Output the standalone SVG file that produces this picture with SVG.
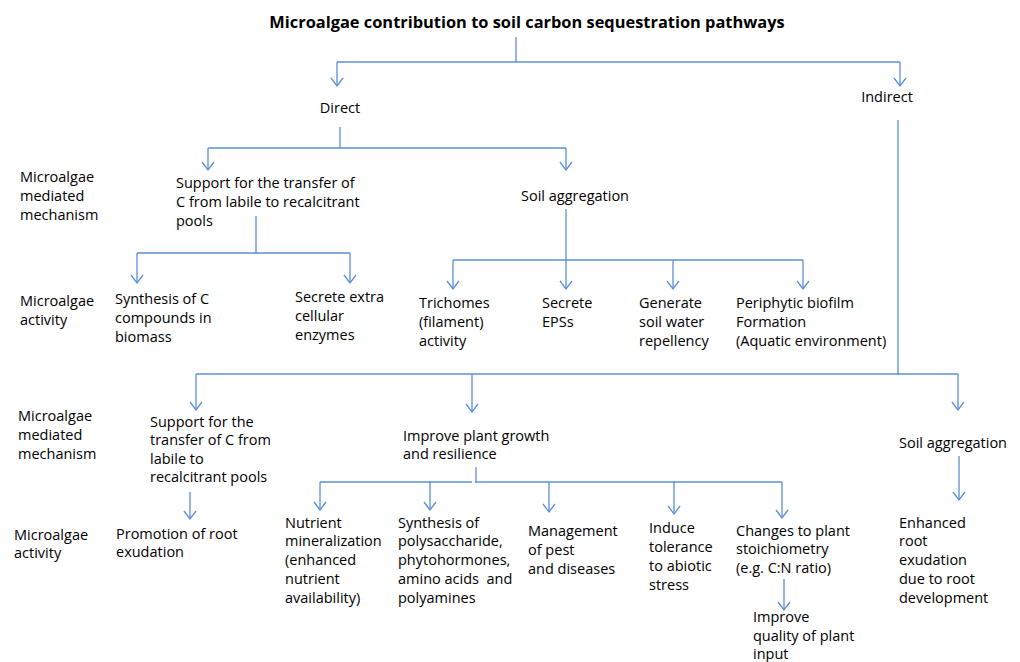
<svg xmlns="http://www.w3.org/2000/svg" width="1020" height="662" viewBox="0 0 1020 662">
<defs>
<style>
text{font-family:"Open Sans","Liberation Sans",sans-serif;font-size:14.5px;fill:#000}
.title{font-weight:bold;font-size:16.4px}
.c line,.c polyline{stroke:#5b8fd6;stroke-width:1.3;fill:none}
.c .a{marker-end:url(#ah)}
</style>
<marker id="ah" markerWidth="14" markerHeight="14" refX="10" refY="7" markerUnits="userSpaceOnUse" orient="auto" viewBox="0 0 14 14">
<polyline points="2,1 10,7 2,13" fill="none" stroke="#5b8fd6" stroke-width="1.3"/>
</marker>
</defs>
<rect width="1020" height="662" fill="#fff"/>
<g id="connectors" class="c">
<line x1="516" y1="37" x2="516" y2="62"/>
<polyline points="337,62 900,62"/>
<line class="a" x1="337" y1="62" x2="337" y2="86"/>
<line class="a" x1="900" y1="62" x2="900" y2="86"/>
<line x1="340" y1="127" x2="340" y2="148"/>
<polyline points="208,148 566,148"/>
<line class="a" x1="208" y1="148" x2="208" y2="170"/>
<line class="a" x1="566" y1="148" x2="566" y2="170"/>
<line x1="898" y1="120" x2="898" y2="374"/>
<line x1="256" y1="216" x2="256" y2="253"/>
<polyline points="137,253 350,253"/>
<line class="a" x1="137" y1="253" x2="137" y2="283"/>
<line class="a" x1="350" y1="253" x2="350" y2="283"/>
<line class="a" x1="566" y1="209" x2="566" y2="289"/>
<polyline points="453,260 803,260"/>
<line class="a" x1="453" y1="260" x2="453" y2="289"/>
<line class="a" x1="673" y1="260" x2="673" y2="289"/>
<line class="a" x1="803" y1="260" x2="803" y2="289"/>
<polyline points="196,374 958,374"/>
<line class="a" x1="196" y1="374" x2="196" y2="410"/>
<line class="a" x1="472" y1="374" x2="472" y2="412"/>
<line class="a" x1="958" y1="374" x2="958" y2="410"/>
<line x1="476" y1="467" x2="476" y2="482"/>
<polyline points="320,482 472,482"/>
<polyline points="475,482 782,482"/>
<line class="a" x1="320" y1="482" x2="320" y2="510"/>
<line class="a" x1="430" y1="482" x2="430" y2="510"/>
<line class="a" x1="549" y1="482" x2="549" y2="512"/>
<line class="a" x1="674" y1="482" x2="674" y2="514"/>
<line class="a" x1="782" y1="482" x2="782" y2="518"/>
<line class="a" x1="190" y1="492" x2="190" y2="519"/>
<line class="a" x1="959" y1="456" x2="959" y2="500"/>
<line class="a" x1="784" y1="579" x2="784" y2="610"/>
</g>
<g id="title"><text class="title" x="527" y="28" text-anchor="middle">Microalgae contribution to soil carbon sequestration pathways</text></g>
<g id="direct"><text x="340" y="113" text-anchor="middle">Direct</text></g>
<g id="indirect"><text x="887" y="102" text-anchor="middle">Indirect</text></g>
<g id="label-mech-1"><text x="20" y="182">Microalgae</text><text x="20" y="201">mediated</text><text x="20" y="220">mechanism</text></g>
<g id="support-1"><text x="176" y="188">Support for the transfer of</text><text x="176" y="207">C from labile to recalcitrant</text><text x="176" y="226">pools</text></g>
<g id="soil-agg-1"><text x="521" y="201">Soil aggregation</text></g>
<g id="label-act-1"><text x="20" y="306">Microalgae</text><text x="20" y="325">activity</text></g>
<g id="synth-c"><text x="115" y="304">Synthesis of C</text><text x="115" y="323">compounds in</text><text x="115" y="342">biomass</text></g>
<g id="secrete-enz"><text x="295" y="302">Secrete extra</text><text x="295" y="321">cellular</text><text x="295" y="340">enzymes</text></g>
<g id="trichomes"><text x="419" y="308">Trichomes</text><text x="419" y="327">(filament)</text><text x="419" y="346">activity</text></g>
<g id="eps"><text x="542" y="308">Secrete</text><text x="542" y="327">EPSs</text></g>
<g id="repellency"><text x="639" y="308">Generate</text><text x="639" y="327">soil water</text><text x="639" y="346">repellency</text></g>
<g id="biofilm"><text x="736" y="308">Periphytic biofilm</text><text x="736" y="327">Formation</text><text x="736" y="346">(Aquatic environment)</text></g>
<g id="label-mech-2"><text x="18" y="421">Microalgae</text><text x="18" y="440">mediated</text><text x="18" y="459">mechanism</text></g>
<g id="support-2"><text x="150" y="427">Support for the</text><text x="150" y="445">transfer of C from</text><text x="150" y="464">labile to</text><text x="150" y="482">recalcitrant pools</text></g>
<g id="improve-growth"><text x="403" y="441">Improve plant growth</text><text x="403" y="459">and resilience</text></g>
<g id="soil-agg-2"><text x="899" y="448">Soil aggregation</text></g>
<g id="label-act-2"><text x="14" y="540">Microalgae</text><text x="14" y="558">activity</text></g>
<g id="root-exud"><text x="116" y="539">Promotion of root</text><text x="116" y="557">exudation</text></g>
<g id="nutrient"><text x="285" y="528">Nutrient</text><text x="285" y="546">mineralization</text><text x="285" y="565">(enhanced</text><text x="285" y="584">nutrient</text><text x="285" y="603">availability)</text></g>
<g id="synth-poly"><text x="398" y="528">Synthesis of</text><text x="398" y="546">polysaccharide,</text><text x="398" y="565">phytohormones,</text><text x="398" y="584" style="white-space:pre">amino acids  and</text><text x="398" y="603">polyamines</text></g>
<g id="pest"><text x="528" y="536">Management</text><text x="528" y="555">of pest</text><text x="528" y="574">and diseases</text></g>
<g id="tolerance"><text x="649" y="533">Induce</text><text x="649" y="552">tolerance</text><text x="649" y="571">to abiotic</text><text x="649" y="590">stress</text></g>
<g id="stoich"><text x="736" y="536">Changes to plant</text><text x="736" y="554">stoichiometry</text><text x="736" y="573">(e.g. C:N ratio)</text></g>
<g id="quality"><text x="753" y="622">Improve</text><text x="753" y="641">quality of plant</text><text x="753" y="659">input</text></g>
<g id="enhanced"><text x="899" y="528">Enhanced</text><text x="899" y="546">root</text><text x="899" y="565">exudation</text><text x="899" y="584">due to root</text><text x="899" y="603">development</text></g>
</svg>
